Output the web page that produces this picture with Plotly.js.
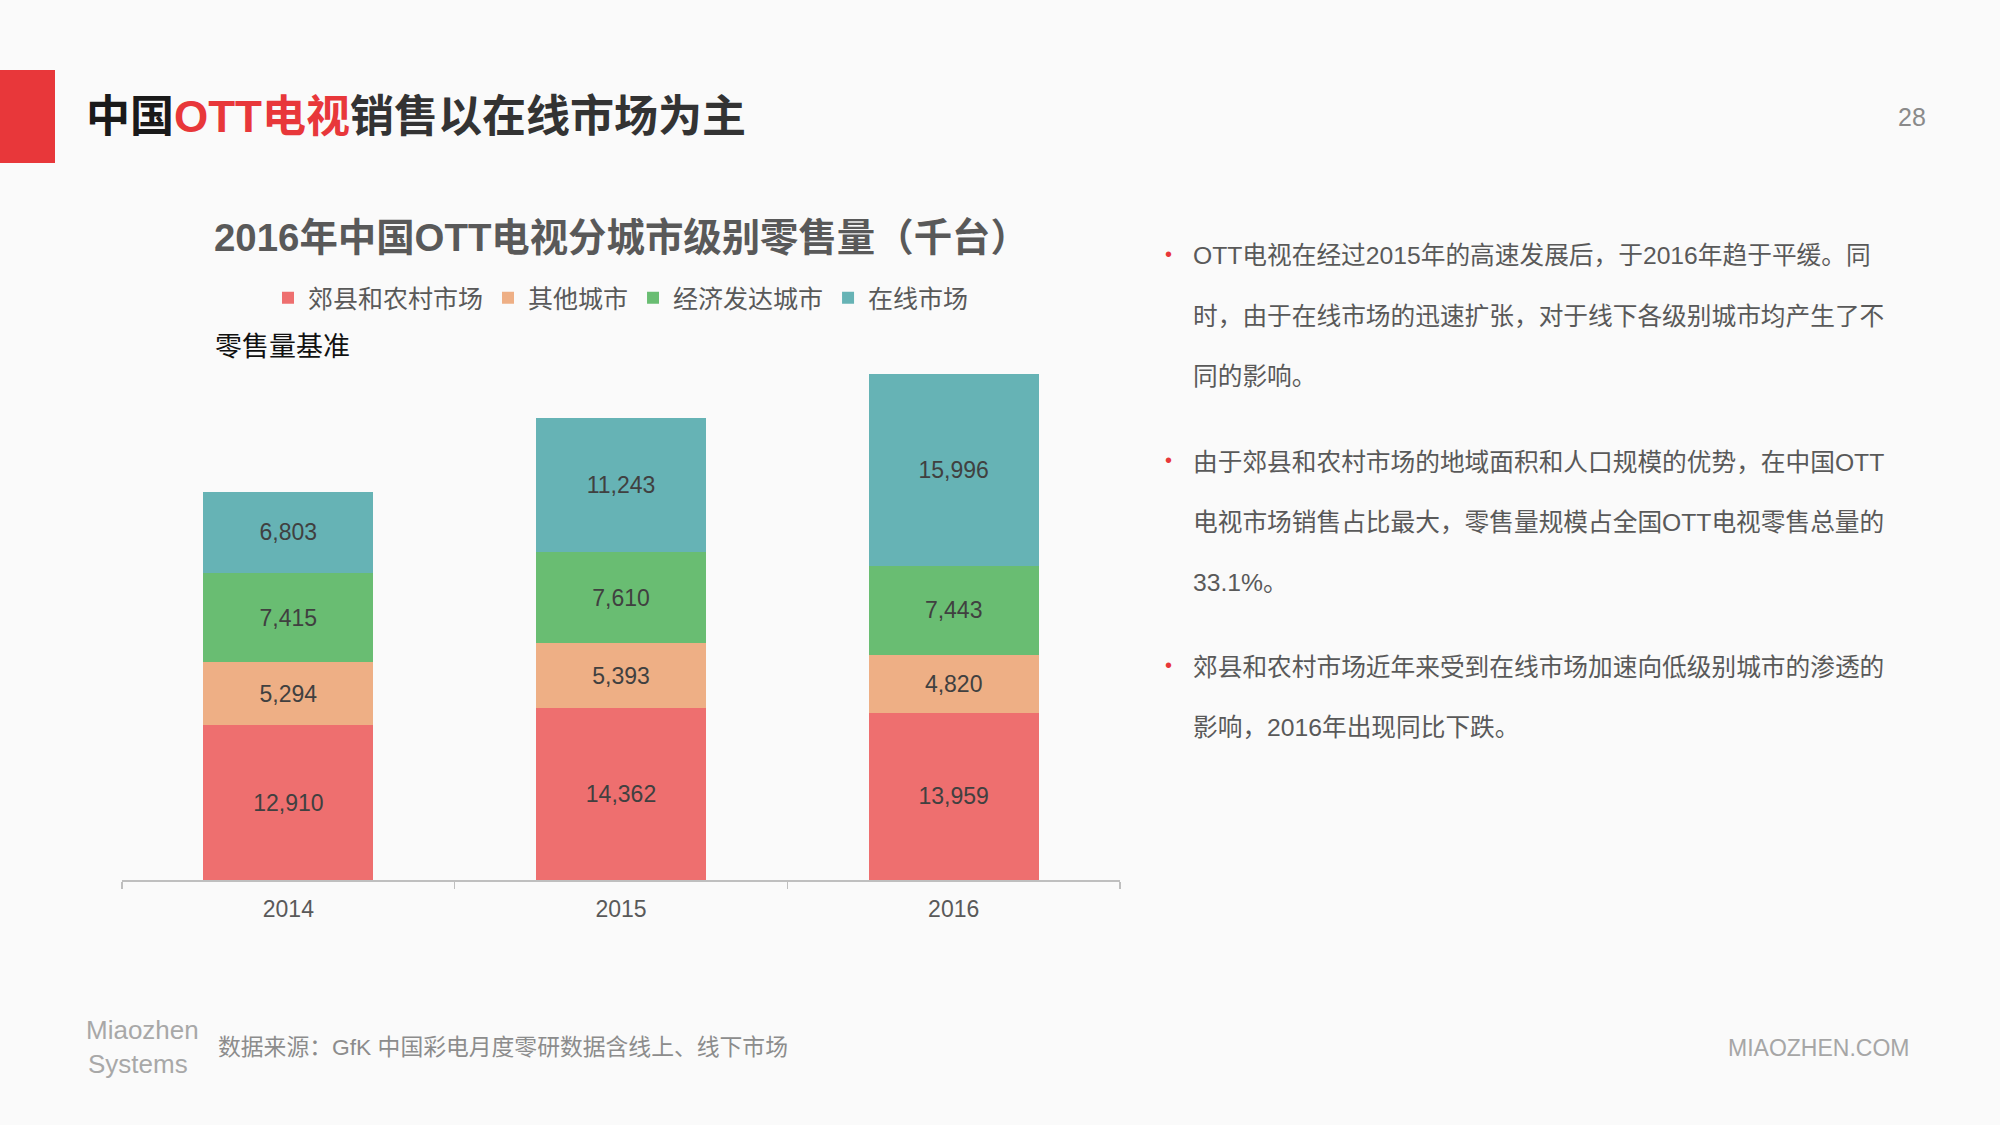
<!DOCTYPE html>
<html>
<head>
<meta charset="utf-8">
<script src="https://cdn.plot.ly/plotly-3.0.1.min.js"></script>
<style>
html,body{margin:0;padding:0;background:#fafafa;}
#chart{width:2000px;height:1125px;}
</style>
</head>
<body>
<div id="chart"></div>
<script>
// ---- data ----
const years = ['2014', '2015', '2016'];
const seriesNames = ['郊县和农村市场', '其他城市', '经济发达城市', '在线市场'];
const rural = [12910, 14362, 13959];
const otherCity = [5294, 5393, 4820];
const developed = [7415, 7610, 7443];
const online = [6803, 11243, 15996];
const seriesColors = ['#EE6F6F', '#EEAF85', '#69BD72', '#66B3B5'];

const pageTitleA = '中国';
const pageTitleB = 'OTT电视';
const pageTitleC = '销售以在线市场为主';
const chartTitle = '2016年中国OTT电视分城市级别零售量（千台）';
const subLabel = '零售量基准';
const pageNumber = '28';
const sourceText = '数据来源：GfK 中国彩电月度零研数据含线上、线下市场';
const siteText = 'MIAOZHEN.COM';
const logoTop = 'Miaozhen';
const logoBottom = 'Systems';
const bulletParagraphs = [
  ['OTT电视在经过2015年的高速发展后，于2016年趋于平缓。同', '时，由于在线市场的迅速扩张，对于线下各级别城市均产生了不', '同的影响。'],
  ['由于郊县和农村市场的地域面积和人口规模的优势，在中国OTT', '电视市场销售占比最大，零售量规模占全国OTT电视零售总量的', '33.1%。'],
  ['郊县和农村市场近年来受到在线市场加速向低级别城市的渗透的', '影响，2016年出现同比下跌。']
];

// ---- helpers ----
const W = 2000, H = 1125;
const px = x => x / W;
const py = y => 1 - y / H;
const FONT = 'Liberation Sans, Arial, "Noto Sans CJK SC", sans-serif';

const allSeries = [rural, otherCity, developed, online];
const traces = allSeries.map((vals, i) => ({
  type: 'bar',
  name: seriesNames[i],
  x: years,
  y: vals,
  marker: {color: seriesColors[i], line: {width: 0}},
  texttemplate: '%{y:,}',
  textposition: 'inside',
  insidetextanchor: 'middle',
  textangle: 0,
  constraintext: 'none',
  textfont: {family: FONT, size: 23, color: '#404040'},
  hoverinfo: 'skip'
}));

const annotations = [];
// page title
annotations.push({
  xref: 'paper', yref: 'paper', x: px(84), y: py(116), xanchor: 'left', yanchor: 'middle',
  showarrow: false,
  text: '<b><span style="color:#1a1a1a">' + pageTitleA + '</span><span style="color:#E8373A">' + pageTitleB + '</span><span style="color:#333333">' + pageTitleC + '</span></b>',
  font: {family: FONT, size: 44, color: '#333333'}
});
// page number
annotations.push({
  xref: 'paper', yref: 'paper', x: px(1912), y: py(117), xanchor: 'center', yanchor: 'middle',
  showarrow: false, text: pageNumber, font: {family: FONT, size: 25, color: '#8a8a8a'}
});
// chart title
annotations.push({
  xref: 'paper', yref: 'paper', x: px(212), y: py(237), xanchor: 'left', yanchor: 'middle',
  showarrow: false, text: '<b>' + chartTitle + '</b>', font: {family: FONT, size: 38.4, color: '#595959'}
});
// sub label
annotations.push({
  xref: 'paper', yref: 'paper', x: px(213), y: py(347), xanchor: 'left', yanchor: 'middle',
  showarrow: false, text: subLabel, font: {family: FONT, size: 27, color: '#111111'}
});
// bullet paragraphs
const paraTops = [256, 462, 667];
bulletParagraphs.forEach((lines, p) => {
  annotations.push({
    xref: 'paper', yref: 'paper', x: px(1168), y: py(paraTops[p] - 2), xanchor: 'center', yanchor: 'middle',
    showarrow: false, text: '•', font: {family: FONT, size: 20, color: '#E8373A'}
  });
  lines.forEach((ln, k) => {
    annotations.push({
      xref: 'paper', yref: 'paper', x: px(1191), y: py(paraTops[p] + k * 60), xanchor: 'left', yanchor: 'middle',
      showarrow: false, text: ln, font: {family: FONT, size: 24.7, color: '#595959'}
    });
  });
});
// logo
annotations.push({
  xref: 'paper', yref: 'paper', x: px(142), y: py(1030), xanchor: 'center', yanchor: 'middle',
  showarrow: false, text: logoTop, font: {family: FONT, size: 26, color: '#a8a8a8'}
});
annotations.push({
  xref: 'paper', yref: 'paper', x: px(138), y: py(1064), xanchor: 'center', yanchor: 'middle',
  showarrow: false, text: logoBottom, font: {family: FONT, size: 26, color: '#a8a8a8'}
});
// source
annotations.push({
  xref: 'paper', yref: 'paper', x: px(216), y: py(1047), xanchor: 'left', yanchor: 'middle',
  showarrow: false, text: sourceText, font: {family: FONT, size: 22.8, color: '#8c8c8c'}
});
// site
annotations.push({
  xref: 'paper', yref: 'paper', x: px(1911), y: py(1048), xanchor: 'right', yanchor: 'middle',
  showarrow: false, text: siteText, font: {family: FONT, size: 23, color: '#a6a6a6'}
});

const layout = {
  width: W, height: H,
  margin: {l: 0, r: 0, t: 0, b: 0, pad: 0},
  paper_bgcolor: '#fafafa',
  plot_bgcolor: '#fafafa',
  barmode: 'stack',
  bargap: 0.489,
  font: {family: FONT, color: '#595959'},
  showlegend: true,
  legend: {
    orientation: 'h', x: px(268), y: py(298), xanchor: 'left', yanchor: 'middle',
    font: {family: FONT, size: 25, color: '#595959'},
    bgcolor: 'rgba(0,0,0,0)', traceorder: 'normal', itemclick: false, itemdoubleclick: false
  },
  xaxis: {
    domain: [px(122), px(1120)],
    type: 'category',
    range: [-0.5, 2.5],
    showline: true, linecolor: '#bfbfbf', linewidth: 1.5,
    ticks: 'outside', tickson: 'boundaries', ticklen: 7, tickcolor: '#bfbfbf', tickwidth: 1.5,
    ticklabelstandoff: 8,
    showgrid: false, zeroline: false,
    tickfont: {family: FONT, size: 23, color: '#595959'},
    fixedrange: true
  },
  yaxis: {
    domain: [py(880), py(341)],
    range: [0, 45000],
    visible: false, showgrid: false, zeroline: false, fixedrange: true
  },
  shapes: [{
    type: 'rect', xref: 'paper', yref: 'paper', x0: 0, x1: px(55), y0: py(163), y1: py(70),
    fillcolor: '#E8373A', line: {width: 0}
  }],
  annotations: annotations
};

Plotly.newPlot('chart', traces, layout, {displayModeBar: false, staticPlot: true});
</script>
</body>
</html>
